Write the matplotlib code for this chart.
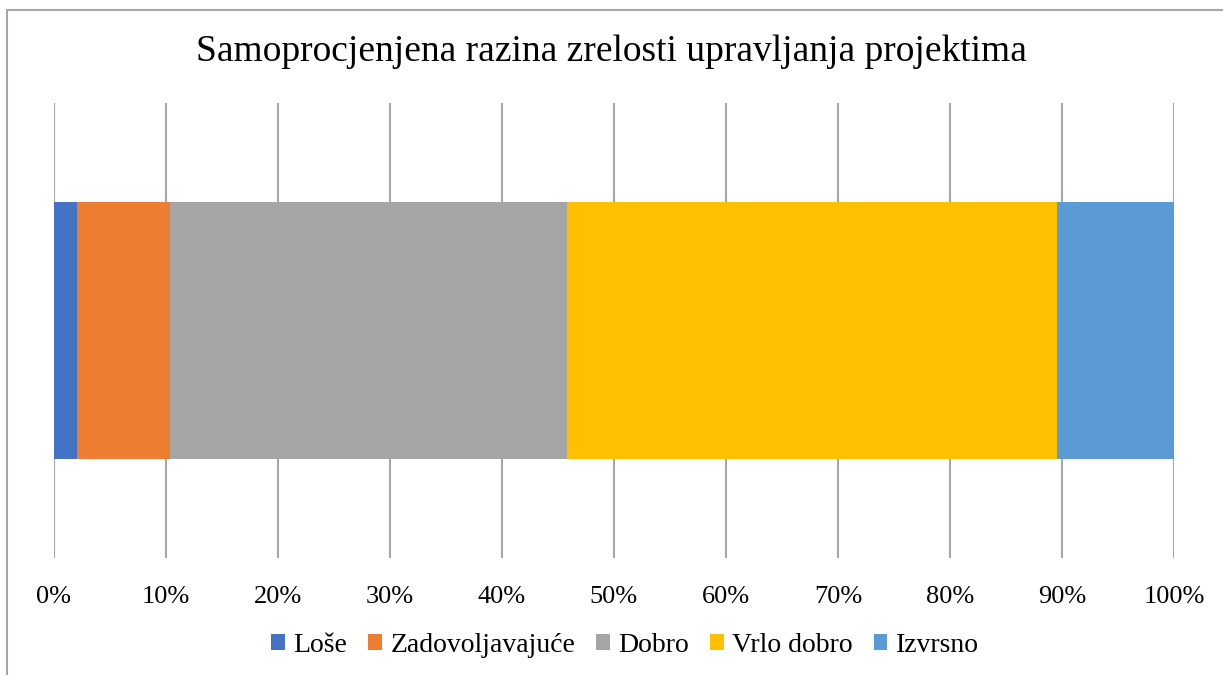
import matplotlib.pyplot as plt
from matplotlib.patches import Rectangle

categories = ['Loše', 'Zadovoljavajuće', 'Dobro', 'Vrlo dobro', 'Izvrsno']
counts = [1, 4, 17, 21, 5]
colors = ['#4472C4', '#ED7D31', '#A5A5A5', '#FFC000', '#5B9BD5']
ticks = [0, 10, 20, 30, 40, 50, 60, 70, 80, 90, 100]

plt.rcParams['font.family'] = ['Liberation Serif', 'DejaVu Serif']

W, H = 1223, 675
fig = plt.figure(figsize=(W / 100, H / 100), dpi=100)

# chart border (only top and left visible in the reference)
fig.add_artist(Rectangle((7 / W, -0.1), 1.2, (H - 10) / H + 0.1, transform=fig.transFigure,
                         fill=False, edgecolor='#a6a6a6', linewidth=1.5))

left, right, top, bottom = 53.7, 1174, 103, 558
ax = fig.add_axes([left / W, 1 - bottom / H, (right - left) / W, (bottom - top) / H])

total = sum(counts)
pct = [c / total * 100 for c in counts]
start = 0
for name, p, col in zip(categories, pct, colors):
    ax.barh(0, p, left=start, height=0.567, color=col, label=name, zorder=3)
    start += p

ax.set_xlim(0, 100)
ax.set_ylim(-0.5, 0.5)
ax.set_xticks(ticks)
ax.set_xticklabels([f'{t}%' for t in ticks], fontsize=19)
ax.set_yticks([])
ax.tick_params(axis='x', length=0, pad=20)
ax.grid(axis='x', color='#a6a6a6', linewidth=1.5, zorder=0)
for s in ax.spines.values():
    s.set_visible(False)

fig.text(0.5, 1 - 52 / H, 'Samoprocjenjena razina zrelosti upravljanja projektima',
         ha='center', va='center', fontsize=27)

fig.legend(loc='center', bbox_to_anchor=(625 / W, 1 - 645 / H), ncol=5, frameon=False,
           fontsize=20, handlelength=0.5, handleheight=0.5, handletextpad=0.3,
           columnspacing=0.75)

fig.savefig('out.png', dpi=100)
